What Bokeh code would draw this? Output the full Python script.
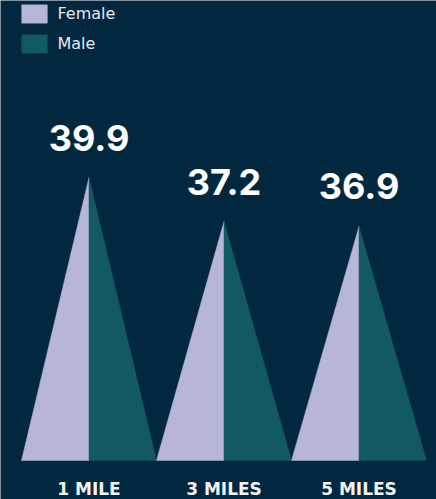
from bokeh.plotting import figure
from bokeh.models import ColumnDataSource, Range1d, Legend, LegendItem
from bokeh.core.properties import value
from bokeh.embed import file_html
from bokeh.resources import INLINE

categories = ["1 MILE", "3 MILES", "5 MILES"]
values = [39.9, 37.2, 36.9]
value_labels = ["39.9", "37.2", "36.9"]
series_names = ["Female", "Male"]

BG = "#022840"
FEMALE = "#B7B5D8"
MALE = "#125962"

W, H = 436, 499
y0 = 22.54
p = figure(width=W, height=H, output_backend="svg", toolbar_location=None,
           x_range=Range1d(-0.6556, 2.574), y_range=Range1d(20.147, 50.76),
           min_border_left=0, min_border_right=0, min_border_top=0, min_border_bottom=0)
p.background_fill_color = BG
p.border_fill_color = BG
p.outline_line_color = None
p.grid.visible = False
p.xaxis.visible = False
p.yaxis.visible = False

idx = list(range(len(categories)))
f_xs = [[i - 0.5, i, i] for i in idx]
f_ys = [[y0, v, y0] for v in values]
m_xs = [[i, i, i + 0.5] for i in idx]
m_ys = [[y0, v, y0] for v in values]

rf = p.patches(f_xs, f_ys, fill_color=FEMALE, line_color=FEMALE, line_width=0.5)
rm = p.patches(m_xs, m_ys, fill_color=MALE, line_color=MALE, line_width=0.5)

src = ColumnDataSource(dict(x=idx, y=values, t=value_labels, base=[y0] * len(idx), cat=categories))
p.text(x="x", y="y", text="t", source=src, text_align="center", text_baseline="alphabetic",
       y_offset=-40, text_font=value("Inter"), text_font_style="bold",
       text_font_size="36px", text_color="white")
p.text(x="x", y="base", text="cat", source=src, text_align="center", text_baseline="alphabetic",
       y_offset=29, text_font=value("DejaVu Sans"), text_font_style="bold",
       text_font_size="17px", text_color="#F2F2F2")

legend = Legend(items=[LegendItem(label=series_names[0], renderers=[rf]),
                       LegendItem(label=series_names[1], renderers=[rm])],
                location=(17.5, 405.3 + 39), orientation="vertical",
                glyph_width=32, glyph_height=23, label_height=23, spacing=7,
                label_standoff=8, padding=0, margin=0,
                label_text_font="DejaVu Sans", label_text_font_size="16px",
                label_text_color="#E8E8E8",
                background_fill_alpha=0, border_line_alpha=0)
p.add_layout(legend, "center")

open("out.html", "w").write(file_html(p, INLINE))
